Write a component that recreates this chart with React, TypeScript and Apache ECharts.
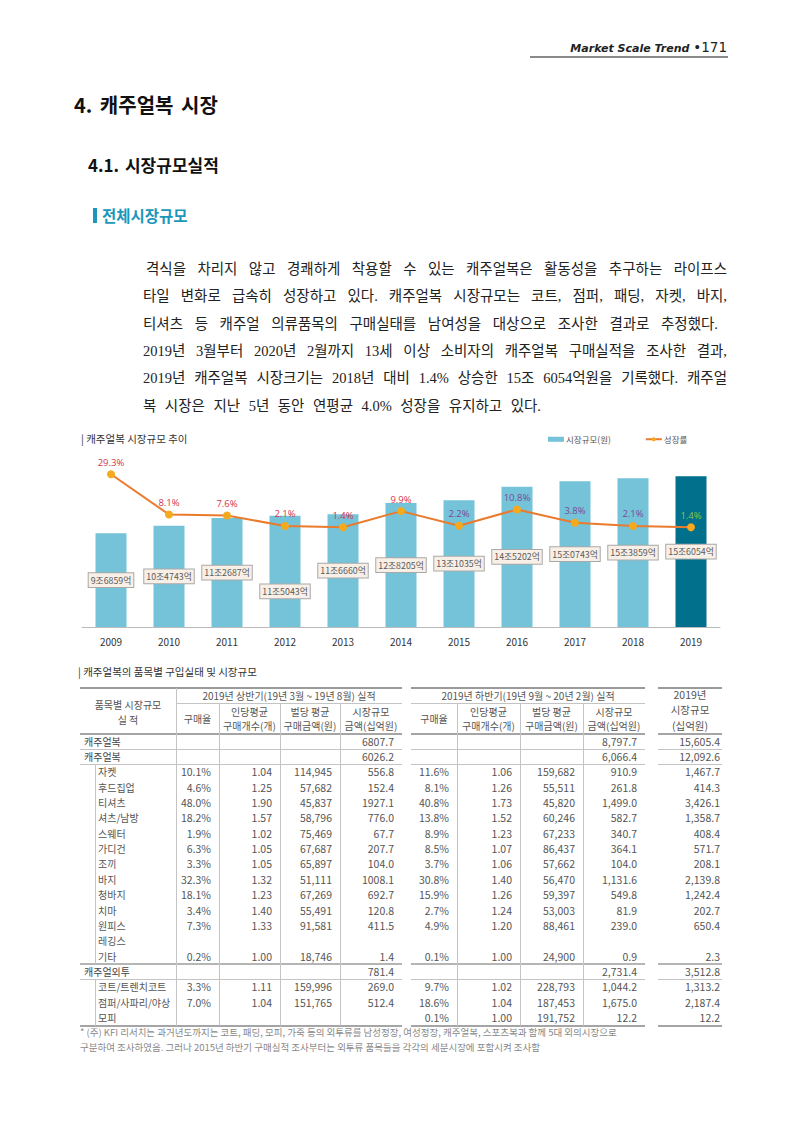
import React, { useEffect, useRef } from "react";
import * as echarts from "echarts";

// ---------- chart data ----------
const years = ["2009", "2010", "2011", "2012", "2013", "2014", "2015", "2016", "2017", "2018", "2019"];
// market size in 억원
const marketSize = [96859, 104743, 112687, 115043, 116660, 128205, 131035, 145202, 150743, 153859, 156054];
// growth rate %
const growthRate = [29.3, 8.1, 7.6, 2.1, 1.4, 9.9, 2.2, 10.8, 3.8, 2.1, 1.4];

// ---------- table data ----------
const rowLabels = [
  "캐주얼복", "캐주얼복", "자켓", "후드집업", "티셔츠", "셔츠/남방", "스웨터", "가디건", "조끼", "바지",
  "청바지", "치마", "원피스", "레깅스", "기타", "캐주얼외투", "코트/트렌치코트", "점퍼/사파리/야상", "모피",
];
const rowLevel = [0, 0, 1, 1, 1, 1, 1, 1, 1, 1, 1, 1, 1, 1, 1, 0, 1, 1, 1];
const firstHalf = [
  ["", "", "", "6807.7"],
  ["", "", "", "6026.2"],
  ["10.1%", "1.04", "114,945", "556.8"],
  ["4.6%", "1.25", "57,682", "152.4"],
  ["48.0%", "1.90", "45,837", "1927.1"],
  ["18.2%", "1.57", "58,796", "776.0"],
  ["1.9%", "1.02", "75,469", "67.7"],
  ["6.3%", "1.05", "67,687", "207.7"],
  ["3.3%", "1.05", "65,897", "104.0"],
  ["32.3%", "1.32", "51,111", "1008.1"],
  ["18.1%", "1.23", "67,269", "692.7"],
  ["3.4%", "1.40", "55,491", "120.8"],
  ["7.3%", "1.33", "91,581", "411.5"],
  ["", "", "", ""],
  ["0.2%", "1.00", "18,746", "1.4"],
  ["", "", "", "781.4"],
  ["3.3%", "1.11", "159,996", "269.0"],
  ["7.0%", "1.04", "151,765", "512.4"],
  ["", "", "", ""],
];
const secondHalf = [
  ["", "", "", "8,797.7"],
  ["", "", "", "6,066.4"],
  ["11.6%", "1.06", "159,682", "910.9"],
  ["8.1%", "1.26", "55,511", "261.8"],
  ["40.8%", "1.73", "45,820", "1,499.0"],
  ["13.8%", "1.52", "60,246", "582.7"],
  ["8.9%", "1.23", "67,233", "340.7"],
  ["8.5%", "1.07", "86,437", "364.1"],
  ["3.7%", "1.06", "57,662", "104.0"],
  ["30.8%", "1.40", "56,470", "1,131.6"],
  ["15.9%", "1.26", "59,397", "549.8"],
  ["2.7%", "1.24", "53,003", "81.9"],
  ["4.9%", "1.20", "88,461", "239.0"],
  ["", "", "", ""],
  ["0.1%", "1.00", "24,900", "0.9"],
  ["", "", "", "2,731.4"],
  ["9.7%", "1.02", "228,793", "1,044.2"],
  ["18.6%", "1.04", "187,453", "1,675.0"],
  ["0.1%", "1.00", "191,752", "12.2"],
];
const yearTotal = [
  "15,605.4", "12,092.6", "1,467.7", "414.3", "3,426.1", "1,358.7", "408.4", "571.7", "208.1", "2,139.8",
  "1,242.4", "202.7", "650.4", "", "2.3", "3,512.8", "1,313.2", "2,187.4", "12.2",
];

const paragraph = [
  "격식을 차리지 않고 경쾌하게 착용할 수 있는 캐주얼복은 활동성을 추구하는 라이프스",
  "타일 변화로 급속히 성장하고 있다. 캐주얼복 시장규모는 코트, 점퍼, 패딩, 자켓, 바지,",
  "티셔츠 등 캐주얼 의류품목의 구매실태를 남여성을 대상으로 조사한 결과로 추정했다.",
  "2019년 3월부터 2020년 2월까지 13세 이상 소비자의 캐주얼복 구매실적을 조사한 결과,",
  "2019년 캐주얼복 시장크기는 2018년 대비 1.4% 상승한 15조 6054억원을 기록했다. 캐주얼",
  "복 시장은 지난 5년 동안 연평균 4.0% 성장을 유지하고 있다.",
];

const footnotes = [
  "* (주) KFI 리서치는 과거년도까지는 코트, 패딩, 모피, 가죽 등의 외투류를 남성정장, 여성정장, 캐주얼복, 스포츠복과 함께 5대 외의시장으로",
  "구분하여 조사하였음. 그러나 2015년 하반기 구매실적 조사부터는 외투류 품목들을 각각의 세분시장에 포함시켜 조사함",
];

// ---------- styles ----------
const BAR_COLOR = "#74c3d8";
const BAR_LAST = "#00708c";
const LINE_COLOR = "#ea7a2c";
const DOT_COLOR = "#f5a91c";
const labelColorFor = (i: number) => (i < 6 ? "#d3344e" : i < 10 ? "#7a4a98" : "#8cc63f");

function sizeLabel(v: number) {
  const jo = Math.floor(v / 10000);
  const eok = String(v % 10000).padStart(4, "0");
  return `${jo}조${eok}억`;
}

const KR = '"Noto Sans CJK KR", "Noto Sans", sans-serif';

function buildOption(): any {
  return {
    animation: false,
    title: {
      text: "| 캐주얼복 시장규모 추이",
      left: 76,
      top: 8,
      textStyle: { fontSize: 10.5, fontWeight: "normal", color: "#333", fontFamily: KR },
    },
    legend: {
      left: 543,
      top: 10,
      itemGap: 34,
      textStyle: { fontSize: 8.5, color: "#555", fontFamily: KR, padding: [0, 0, 0, -3] },
      data: [
        { name: "시장규모(원)", icon: "rect", itemStyle: { color: BAR_COLOR } },
        { name: "성장률" },
      ],
      itemWidth: 16,
      itemHeight: 5,
    },
    grid: { left: 82, right: 80, top: 33, bottom: 33 },
    xAxis: {
      type: "category",
      data: years,
      axisLine: { lineStyle: { color: "#bbb", width: 1 } },
      axisTick: { show: false },
      axisLabel: { fontSize: 10, color: "#333", margin: 9, fontFamily: KR },
    },
    yAxis: [
      { type: "value", min: 0, max: 180000, show: false },
      { type: "value", min: -51.1, max: 40.5, show: false },
    ],
    series: [
      {
        name: "시장규모(원)",
        type: "bar",
        barWidth: 31,
        yAxisIndex: 0,
        itemStyle: { color: BAR_COLOR },
        data: marketSize.map((v, i) => ({
          value: v,
          itemStyle: { color: i === marketSize.length - 1 ? BAR_LAST : BAR_COLOR },
          label: i === 3 ? { offset: [0, 20] } : undefined,
        })),
        label: {
          show: true,
          position: "inside",
          formatter: (p: any) => sizeLabel(p.value),
          fontSize: 8.8,
          color: "#5a5a5a",
          fontFamily: KR,
          backgroundColor: "#f8efe6",
          borderColor: "#a9a9a9",
          borderWidth: 1,
          padding: [3, 2, 2, 2],
        },
        z: 2,
      },
      {
        name: "성장률",
        type: "line",
        yAxisIndex: 1,
        symbol: "circle",
        symbolSize: 8,
        lineStyle: { color: LINE_COLOR, width: 2 },
        itemStyle: { color: DOT_COLOR },
        data: growthRate.map((v, i) => ({
          value: v,
          label: { color: labelColorFor(i) },
        })),
        label: {
          show: true,
          position: "top",
          distance: 3,
          fontSize: 9.5,
          formatter: (p: any) => `${p.value}%`,
          fontFamily: '"Open Sans", sans-serif',
        },
        z: 3,
      },
    ],
  };
}

// ---------- table geometry ----------
const TOP = 688;
const H1 = 703;
const HB = 734;
const ROWH = 15.35;
const leftCols = [176, 219, 280, 340, 402];
const midCols = [411, 457, 520, 583, 645];
const rightCols = [658, 722];

const Line = ({ x1, x2, y, w = 1, c = "#c4c4c4" }: any) => (
  <div style={{ position: "absolute", left: x1, top: y - w / 2, width: x2 - x1, height: w, background: c }} />
);
const VLine = ({ x, y1, y2, c = "#c4c4c4" }: any) => (
  <div style={{ position: "absolute", left: x - 0.5, top: y1, width: 1, height: y2 - y1, background: c }} />
);
const Cell = ({ x1, x2, yc, text, align = "right", pad = 8, style = {} }: any) => (
  <div
    style={{
      position: "absolute",
      left: x1 + (align === "left" ? pad : 0),
      width: x2 - x1 - (align === "center" ? 0 : pad),
      top: yc - 8,
      height: 16,
      lineHeight: "16px",
      textAlign: align,
      whiteSpace: "nowrap",
      fontSize: 10.5,
      color: "#555",
      ...style,
    }}
  >
    {text}
  </div>
);

export default function App() {
  const ref = useRef<HTMLDivElement>(null);
  useEffect(() => {
    const chart = echarts.init(ref.current!, null, { renderer: "svg" });
    chart.setOption(buildOption());
    return () => chart.dispose();
  }, []);

  const rowTop = (i: number) => HB + i * ROWH;
  const rowC = (i: number) => HB + i * ROWH + ROWH / 2;
  const tableBottom = rowTop(rowLabels.length);

  const tableEls: any[] = [];
  // header lines
  [[80, 402], [411, 645], [658, 722]].forEach(([a, b], k) => {
    tableEls.push(<Line key={`tt${k}`} x1={a} x2={b} y={TOP} w={2} c="#9a9a9a" />);
    tableEls.push(<Line key={`hb${k}`} x1={a} x2={b} y={HB} w={2} c="#a5a5a5" />);
    tableEls.push(<Line key={`r1${k}`} x1={a} x2={b} y={rowTop(1)} />);
    tableEls.push(<Line key={`r2${k}`} x1={a} x2={b} y={rowTop(2)} />);
    tableEls.push(<Line key={`r15${k}`} x1={a} x2={b} y={rowTop(15)} w={2} c="#b5b5b5" />);
    tableEls.push(<Line key={`r16${k}`} x1={a} x2={b} y={rowTop(16)} />);
    tableEls.push(<Line key={`rb${k}`} x1={a} x2={b} y={tableBottom} w={2} c="#a5a5a5" />);
  });
  tableEls.push(<Line key="h1a" x1={176} x2={402} y={H1} />);
  tableEls.push(<Line key="h1b" x1={411} x2={645} y={H1} />);
  tableEls.push(<VLine key="v176" x={176} y1={TOP} y2={tableBottom} />);
  [219, 280, 340, 457, 520, 583].forEach((x) =>
    tableEls.push(<VLine key={`v${x}`} x={x} y1={H1} y2={tableBottom} />)
  );
  tableEls.push(<VLine key="vsub1" x={95} y1={rowTop(2)} y2={rowTop(15)} />);
  tableEls.push(<VLine key="vsub2" x={95} y1={rowTop(16)} y2={tableBottom} />);

  // header texts
  const hs = { fontSize: 10, color: "#555" };
  tableEls.push(<Cell key="hl1" x1={80} x2={176} yc={705} text="품목별 시장규모" align="center" style={hs} />);
  tableEls.push(<Cell key="hl2" x1={80} x2={176} yc={720} text="실 적" align="center" style={hs} />);
  tableEls.push(<Cell key="hg1" x1={176} x2={402} yc={696} text="2019년 상반기(19년 3월 ~ 19년 8월) 실적" align="center" style={hs} />);
  tableEls.push(<Cell key="hg2" x1={411} x2={645} yc={696} text="2019년 하반기(19년 9월 ~ 20년 2월) 실적" align="center" style={hs} />);
  const sub = [["구매율", ""], ["인당평균", "구매개수(개)"], ["벌당 평균", "구매금액(원)"], ["시장규모", "금액(십억원)"]];
  [leftCols, midCols].forEach((cols, b) => {
    sub.forEach(([a, c], j) => {
      if (c) {
        tableEls.push(<Cell key={`s${b}${j}a`} x1={cols[j]} x2={cols[j + 1]} yc={712} text={a} align="center" style={hs} />);
        tableEls.push(<Cell key={`s${b}${j}b`} x1={cols[j]} x2={cols[j + 1]} yc={726} text={c} align="center" style={hs} />);
      } else {
        tableEls.push(<Cell key={`s${b}${j}a`} x1={cols[j]} x2={cols[j + 1]} yc={719} text={a} align="center" style={hs} />);
      }
    });
  });
  tableEls.push(<Cell key="hr1" x1={658} x2={722} yc={695} text="2019년" align="center" style={{ fontSize: 10.5, color: "#555" }} />);
  tableEls.push(<Cell key="hr2" x1={658} x2={722} yc={710} text="시장규모" align="center" style={{ fontSize: 10.5, color: "#555" }} />);
  tableEls.push(<Cell key="hr3" x1={658} x2={722} yc={726} text="(십억원)" align="center" style={{ fontSize: 10.5, color: "#555" }} />);

  // body
  rowLabels.forEach((lab, i) => {
    const yc = rowC(i);
    tableEls.push(
      <Cell
        key={`lab${i}`}
        x1={80}
        x2={176}
        yc={yc}
        text={lab}
        align="left"
        pad={rowLevel[i] === 0 ? 4 : 18}
        style={{ fontSize: 10, color: rowLevel[i] === 0 ? "#444" : "#555" }}
      />
    );
    firstHalf[i].forEach((t, j) => {
      if (t) tableEls.push(<Cell key={`f${i}${j}`} x1={leftCols[j]} x2={leftCols[j + 1]} yc={yc} text={t} />);
    });
    secondHalf[i].forEach((t, j) => {
      if (t) tableEls.push(<Cell key={`s${i}${j}`} x1={midCols[j]} x2={midCols[j + 1]} yc={yc} text={t} />);
    });
    if (yearTotal[i]) tableEls.push(<Cell key={`t${i}`} x1={rightCols[0]} x2={rightCols[1]} yc={yc} text={yearTotal[i]} pad={2} />);
  });

  return (
    <div
      style={{
        position: "absolute",
        left: 0,
        top: 0,
        width: 800,
        height: 1131,
        background: "#fff",
        overflow: "hidden",
        fontFamily: KR,
        color: "#222",
      }}
    >
      {/* running header */}
      <div style={{ position: "absolute", right: 73, top: 36, height: 18, lineHeight: "18px", whiteSpace: "nowrap", color: "#222" }}>
        <span style={{ fontFamily: '"DejaVu Sans", sans-serif', fontStyle: "italic", fontWeight: 700, fontSize: 11 }}>Market Scale Trend </span>
        <span style={{ fontFamily: '"DejaVu Sans", sans-serif', fontWeight: 400, fontSize: 13.5 }}>•171</span>
      </div>
      <div style={{ position: "absolute", left: 530, top: 56, width: 198, height: 2, background: "#8a8a8a" }} />

      {/* section titles */}
      <div style={{ position: "absolute", left: 74, top: 91, fontSize: 20, fontWeight: 700, whiteSpace: "nowrap", color: "#111", lineHeight: "28px", wordSpacing: 3 }}>
        4. 캐주얼복 시장
      </div>
      <div style={{ position: "absolute", left: 88, top: 153, fontSize: 17, fontWeight: 700, whiteSpace: "nowrap", color: "#111", lineHeight: "24px", wordSpacing: 2 }}>
        4.1. 시장규모실적
      </div>
      <div style={{ position: "absolute", left: 93, top: 208, width: 4, height: 15, background: "#1b97bb" }} />
      <div style={{ position: "absolute", left: 102, top: 204, fontSize: 15.5, fontWeight: 700, whiteSpace: "nowrap", color: "#1b97bb", lineHeight: "22px" }}>
        전체시장규모
      </div>

      {/* paragraph */}
      {paragraph.map((line, i) => {
        const left = i === 0 ? 146 : 143;
        const right = i === 2 ? 718 : i === 5 ? 541 : 727;
        return (
          <div
            key={`p${i}`}
            style={{
              position: "absolute",
              left,
              top: 269 + i * 27.3 - 13,
              width: right - left,
              height: 26,
              lineHeight: "26px",
              fontSize: 14.5,
              fontFamily: '"Liberation Serif", "Noto Sans CJK KR", serif',
              textAlign: "justify",
              textAlignLast: "justify",
              whiteSpace: "nowrap",
              color: "#222",
            }}
          >
            {line}
          </div>
        );
      })}

      {/* chart */}
      <div ref={ref} style={{ position: "absolute", left: 0, top: 420, width: 800, height: 240 }} />

      {/* table title */}
      <div style={{ position: "absolute", left: 78, top: 664, fontSize: 10.5, whiteSpace: "nowrap", color: "#333", lineHeight: "16px" }}>
        | 캐주얼복의 품목별 구입실태 및 시장규모
      </div>
      {tableEls}

      {/* footnotes */}
      {footnotes.map((t, i) => (
        <div key={`fn${i}`} style={{ position: "absolute", left: 80, top: 1025 + i * 15, fontSize: 9.5, color: "#888", whiteSpace: "nowrap", lineHeight: "14px" }}>
          {t}
        </div>
      ))}
    </div>
  );
}
